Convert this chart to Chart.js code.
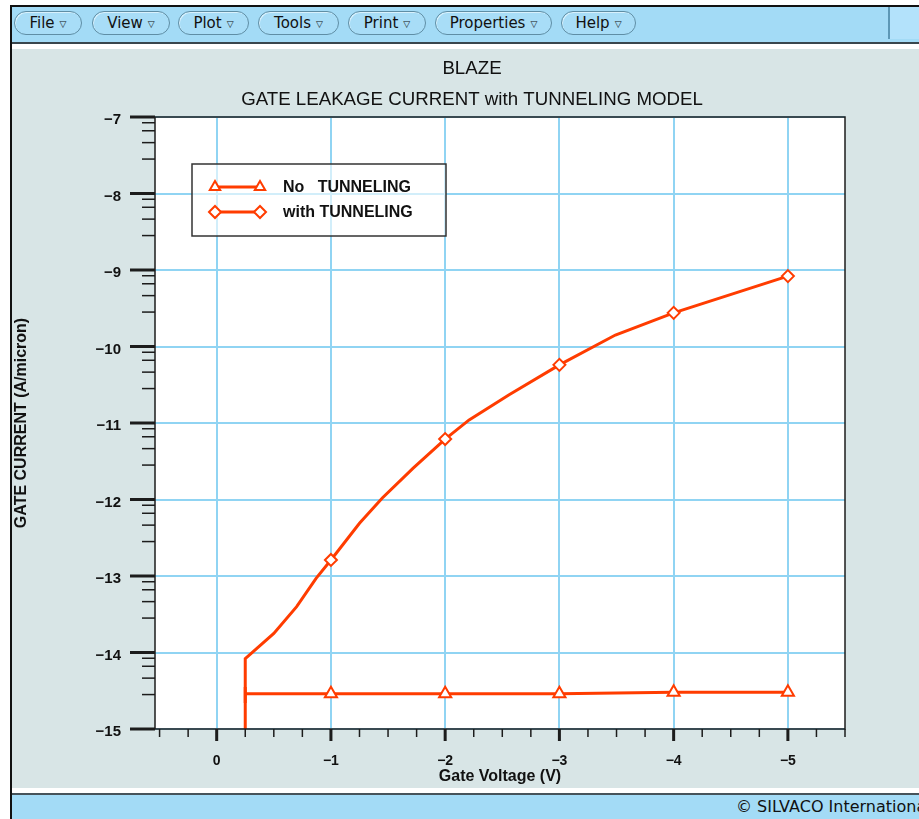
<!DOCTYPE html>
<html lang="en">
<head>
<meta charset="utf-8">
<title>BLAZE - Gate Leakage Current</title>
<script src="https://cdn.jsdelivr.net/npm/chart.js@4.4.1/dist/chart.umd.min.js"></script>
<style>
  html, body { margin: 0; padding: 0; }
  body { width: 919px; height: 819px; position: relative; overflow: hidden; background: #fff; }
  .edge-left { position: absolute; left: 10px; top: 5px; width: 2px; height: 814px; background: #111; z-index: 3; }
  .edge-top { position: absolute; left: 10px; top: 5px; width: 909px; height: 2px; background: #111; z-index: 3; }
  .toolbar { position: absolute; left: 12px; top: 7px; width: 907px; height: 35px; background: #a3dbf6; border-bottom: 2px solid #39464d; }
  .toolbar .spare { position: absolute; left: 876px; top: 0; width: 31px; height: 32px; background: #b3e2fb; border-left: 2px solid #5d98b6; }
  .menu { position: absolute; top: 4px; height: 22px; box-sizing: content-box; border: 1px solid #5f8ea5; border-radius: 12px;
          background: #a8ddf7; box-shadow: inset 1px 1px 0 #d8f1fd; font: 15px "DejaVu Sans", sans-serif; color: #111;
          line-height: 22px; text-align: center; white-space: nowrap; }
  .menu span { font-size: 9px; margin-left: 5px; position: relative; top: -1px; }
  .panel { position: absolute; left: 12px; top: 49px; width: 907px; height: 739px; background: #d8e5e6; }
  .panel canvas { position: absolute; left: 0; top: 0; }
  .status { position: absolute; left: 12px; top: 793px; width: 907px; height: 26px; background: #a3dbf6; border-top: 2px solid #46535a; box-sizing: border-box; }
  .status .copy { position: absolute; left: 724px; top: 2px; font: 16px "DejaVu Sans", sans-serif; white-space: nowrap; color: #111; }
</style>
</head>
<body>
<div class="edge-top"></div>
<div class="edge-left"></div>
<div class="toolbar">
  <div class="menu" style="left:2px;width:66px">File<span>&#9661;</span></div>
  <div class="menu" style="left:80px;width:76px">View<span>&#9661;</span></div>
  <div class="menu" style="left:166px;width:69px">Plot<span>&#9661;</span></div>
  <div class="menu" style="left:246px;width:79px">Tools<span>&#9661;</span></div>
  <div class="menu" style="left:336px;width:76px">Print<span>&#9661;</span></div>
  <div class="menu" style="left:423px;width:115px">Properties<span>&#9661;</span></div>
  <div class="menu" style="left:549px;width:73px">Help<span>&#9661;</span></div>
  <div class="spare"></div>
</div>
<div class="panel">
  <canvas id="leakage" width="907" height="739"></canvas>
</div>
<div class="status"><div class="copy">&copy; SILVACO International</div></div>

<script>
// Gate voltage (V) vs log10 of gate current (A/micron)
const voltsTunneling = [-0.25, -0.25, -0.5, -0.7, -0.87, -1, -1.25, -1.45, -1.72, -2, -2.21, -2.56, -3, -3.49, -4, -5];
const currentTunneling = [-15, -14.08, -13.75, -13.40, -13.03, -12.79, -12.31, -11.98, -11.59, -11.21, -10.96, -10.63, -10.24, -9.85, -9.56, -9.08];
const voltsNoTunneling = [-0.25, -0.25, -0.25, -1, -2, -3, -4, -5];
const currentNoTunneling = [-14.66, -14.45, -14.54, -14.54, -14.54, -14.54, -14.52, -14.52];

// bias points that carry a symbol
const markedVolts = [-1, -2, -3, -4, -5];

const voltTicks = [0, -1, -2, -3, -4, -5];
const currentTicks = [-15, -14, -13, -12, -11, -10, -9, -8, -7];
// minor tick offsets inside each decade
const minorDecadeSteps = [0.45, 0.665, 0.82, 0.925];

const seriesLabels = ['No   TUNNELING', 'with TUNNELING'];
const titleLines = ['BLAZE', 'GATE LEAKAGE CURRENT with TUNNELING MODEL'];

const LINE_RED = '#ff3c00';
const GRID_BLUE = '#90d4f3';
const FONT = '"Liberation Sans", Arial, sans-serif';

const toPoints = (xs, ys) => xs.map((v, i) => ({ x: v, y: ys[i] }));
const markerRadius = r => ctx => (ctx.raw && markedVolts.includes(ctx.raw.x)) ? r : 0;
const minusLabel = v => v === 0 ? '0' : '\u2212' + Math.abs(v);

const frame = {
    id: 'frame',

    afterLayout(chart) {
        // title sits a little left of the plot center
        const t = chart.titleBlock;
        if (t) {
            t.left = 160;
            t.right = 760;
            t.width = 600;
        }
    },

    beforeDraw(chart) {
        const { ctx, chartArea: a } = chart;
        ctx.save();
        ctx.fillStyle = '#fff';
        ctx.fillRect(a.left, a.top, a.width, a.height);
        ctx.restore();
    },

    afterDraw(chart) {
        const { ctx, chartArea: a, scales: { x, y } } = chart;
        const seg = (x1, y1, x2, y2, w) => {
            ctx.lineWidth = w;
            ctx.beginPath();
            ctx.moveTo(x1, y1);
            ctx.lineTo(x2, y2);
            ctx.stroke();
        };

        ctx.save();
        ctx.strokeStyle = '#1c1c1c';

        // plot box
        ctx.lineWidth = 1.5;
        ctx.strokeRect(a.left, a.top, a.width, a.height);

        // y axis ticks
        currentTicks.forEach(v => {
            const py = y.getPixelForValue(v);
            seg(a.left - 25, py, a.left, py, 3);
        });
        currentTicks.slice(0, -1).forEach(v => {
            minorDecadeSteps.forEach(f => {
                const py = y.getPixelForValue(v + f);
                seg(a.left - 13, py, a.left, py, 1.5);
            });
        });

        // x axis ticks, every quarter volt
        for (let q = 2; q >= -22; q--) {
            const px = x.getPixelForValue(q / 4);
            const major = q % 4 === 0;
            seg(px, a.bottom, px, a.bottom + (major ? 12 : 8), major ? 3 : 1.5);
        }

        // legend
        const lx = a.left + 37, ly = a.top + 47;
        ctx.fillStyle = 'rgba(255, 255, 255, 0.6)';
        ctx.fillRect(lx, ly, 254, 72);
        ctx.lineWidth = 1.5;
        ctx.strokeStyle = '#333';
        ctx.strokeRect(lx, ly, 254, 72);

        chart.data.datasets.forEach((ds, i) => {
            const yy = ly + 23 + i * 25;
            ctx.strokeStyle = ds.borderColor;
            seg(lx + 23, yy, lx + 68, yy, 3);
            [lx + 23, lx + 68].forEach(px => {
                ctx.fillStyle = '#fff';
                ctx.strokeStyle = ds.borderColor;
                ctx.lineWidth = 2;
                Chart.helpers.drawPoint(ctx, { pointStyle: ds.pointStyle, radius: 6, borderWidth: 2, rotation: 0 }, px, yy);
            });
            ctx.fillStyle = '#111';
            ctx.font = 'bold 16px ' + FONT;
            ctx.textBaseline = 'middle';
            ctx.textAlign = 'left';
            ctx.fillText(ds.label, lx + 91, yy + 1);
        });

        ctx.restore();
    }
};

new Chart(document.getElementById('leakage'), {
    type: 'line',
    data: {
        datasets: [
            {
                label: seriesLabels[0],
                data: toPoints(voltsNoTunneling, currentNoTunneling),
                borderColor: LINE_RED,
                backgroundColor: '#fff',
                borderWidth: 3,
                pointStyle: 'triangle',
                pointRadius: markerRadius(7),
                pointHoverRadius: markerRadius(7),
                pointBorderWidth: 2,
                tension: 0
            },
            {
                label: seriesLabels[1],
                data: toPoints(voltsTunneling, currentTunneling),
                borderColor: LINE_RED,
                backgroundColor: '#fff',
                borderWidth: 3,
                pointStyle: 'rectRot',
                pointRadius: markerRadius(6),
                pointHoverRadius: markerRadius(6),
                pointBorderWidth: 2,
                tension: 0
            }
        ]
    },
    options: {
        responsive: false,
        animation: false,
        layout: {
            padding: { left: 0, right: 74, top: 0, bottom: 0 }
        },
        plugins: {
            legend: { display: false },
            tooltip: { enabled: false },
            title: {
                display: true,
                text: titleLines,
                color: '#111',
                font: { family: FONT, size: 18.7, weight: 'normal', lineHeight: 31 / 18.7 },
                padding: { top: 4.5, bottom: 1.5 }
            }
        },
        scales: {
            x: {
                type: 'linear',
                reverse: true,
                min: -5.5,
                max: 0.54,
                afterBuildTicks: scale => { scale.ticks = voltTicks.map(value => ({ value })); },
                afterFit: scale => { scale.height = 59; },
                grid: { color: GRID_BLUE, lineWidth: 2, drawTicks: false },
                border: { display: false },
                ticks: {
                    padding: 24,
                    color: '#111',
                    font: { family: FONT, size: 14, weight: 'bold' },
                    callback: minusLabel
                },
                title: {
                    display: true,
                    text: 'Gate Voltage (V)',
                    color: '#111',
                    font: { family: FONT, size: 16, weight: 'bold', lineHeight: 1.2 },
                    padding: { top: 0, bottom: 1.4 }
                }
            },
            y: {
                type: 'linear',
                min: -15,
                max: -7,
                afterBuildTicks: scale => { scale.ticks = currentTicks.map(value => ({ value })); },
                afterFit: scale => { scale.width = 143; },
                grid: { color: GRID_BLUE, lineWidth: 2, drawTicks: false },
                border: { display: false },
                ticks: {
                    padding: 34,
                    labelOffset: 3,
                    color: '#111',
                    font: { family: FONT, size: 15, weight: 'bold' },
                    callback: minusLabel
                },
                title: {
                    display: true,
                    text: 'GATE CURRENT (A/micron)',
                    color: '#111',
                    font: { family: FONT, size: 16, weight: 'bold', lineHeight: 1 },
                    padding: { top: 1.5, bottom: 0 }
                }
            }
        }
    },
    plugins: [frame]
});
</script>
</body>
</html>
